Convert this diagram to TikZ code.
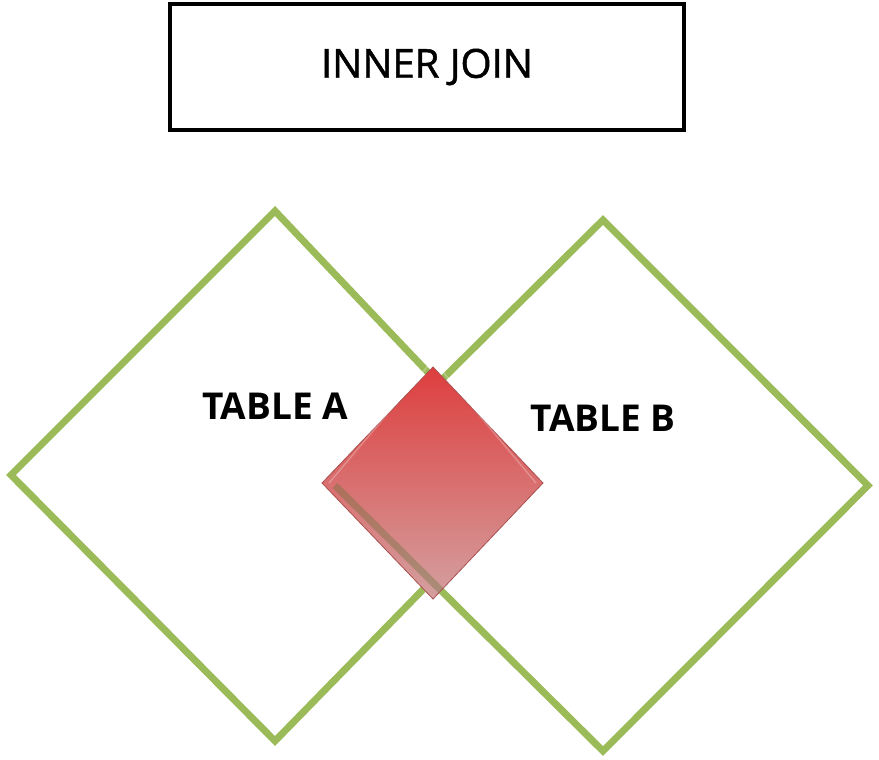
\documentclass[tikz,border=0pt]{standalone}
\usepackage{fontspec}
\setmainfont{Open Sans}
\newfontfamily\titlefont[FakeBold=1.2]{Open Sans}
\definecolor{vgreen}{RGB}{155,187,89}
\definecolor{redtop}{RGB}{222,62,62}
\definecolor{redmid}{RGB}{208,95,95}
\definecolor{redbot}{RGB}{212,160,160}
\definecolor{redline}{RGB}{170,80,80}
\tikzset{
  tablebox/.style={draw=vgreen, line width=7pt, line join=miter},
  titlebox/.style={draw=black, line width=3.5pt, minimum width=514pt, minimum height=126pt, inner sep=0pt},
  titletext/.style={font=\titlefont\fontsize{40}{44}\selectfont},
  tabletext/.style={font=\bfseries\fontsize{37}{40}\selectfont, inner sep=0pt}
}
\begin{document}
\begin{tikzpicture}[x=1pt,y=-1pt]
\useasboundingbox (0,0) rectangle (879,760);
% title
\node[titlebox, titletext] (title) at (427,67) {INNER JOIN};
% table A
\coordinate (aT) at (275,211);
\coordinate (aR) at (530,480);
\coordinate (aB) at (275,741);
\coordinate (aL) at (11,475);
\draw[tablebox] (aT) -- (aR) -- (aB) -- (aL) -- cycle;
% table B
\coordinate (bT) at (603,220);
\coordinate (bR) at (868,485.5);
\coordinate (bB) at (603,751);
\coordinate (bL) at (335,485.5);
\draw[tablebox] (bT) -- (bR) -- (bB) -- (bL) -- cycle;
% intersection diamond
\coordinate (iT) at (433,367);
\coordinate (iR) at (543,483);
\coordinate (iB) at (433,599);
\coordinate (iL) at (322,483);
\shade[top color=redtop, middle color=redmid, bottom color=redbot]
  (iT) -- (iR) -- (iB) -- (iL) -- cycle;
\begin{scope}
  \clip (iT) -- (iR) -- (iB) -- (iL) -- cycle;
  \draw[vgreen!60!black, line width=7pt, opacity=0.35] (bL) -- (bB);
\end{scope}
\draw[redline, line width=0.8pt] (iT) -- (iR) -- (iB) -- (iL) -- cycle;
\draw[white, opacity=0.25, line width=1.5pt] ([xshift=7pt]iL) -- ([yshift=7pt]iT) -- ([xshift=-7pt]iR);
% labels
\node[tabletext] (labA) at (275,406) {TABLE A};
\node[tabletext] (labB) at (603,418) {TABLE B};
\end{tikzpicture}
\end{document}
